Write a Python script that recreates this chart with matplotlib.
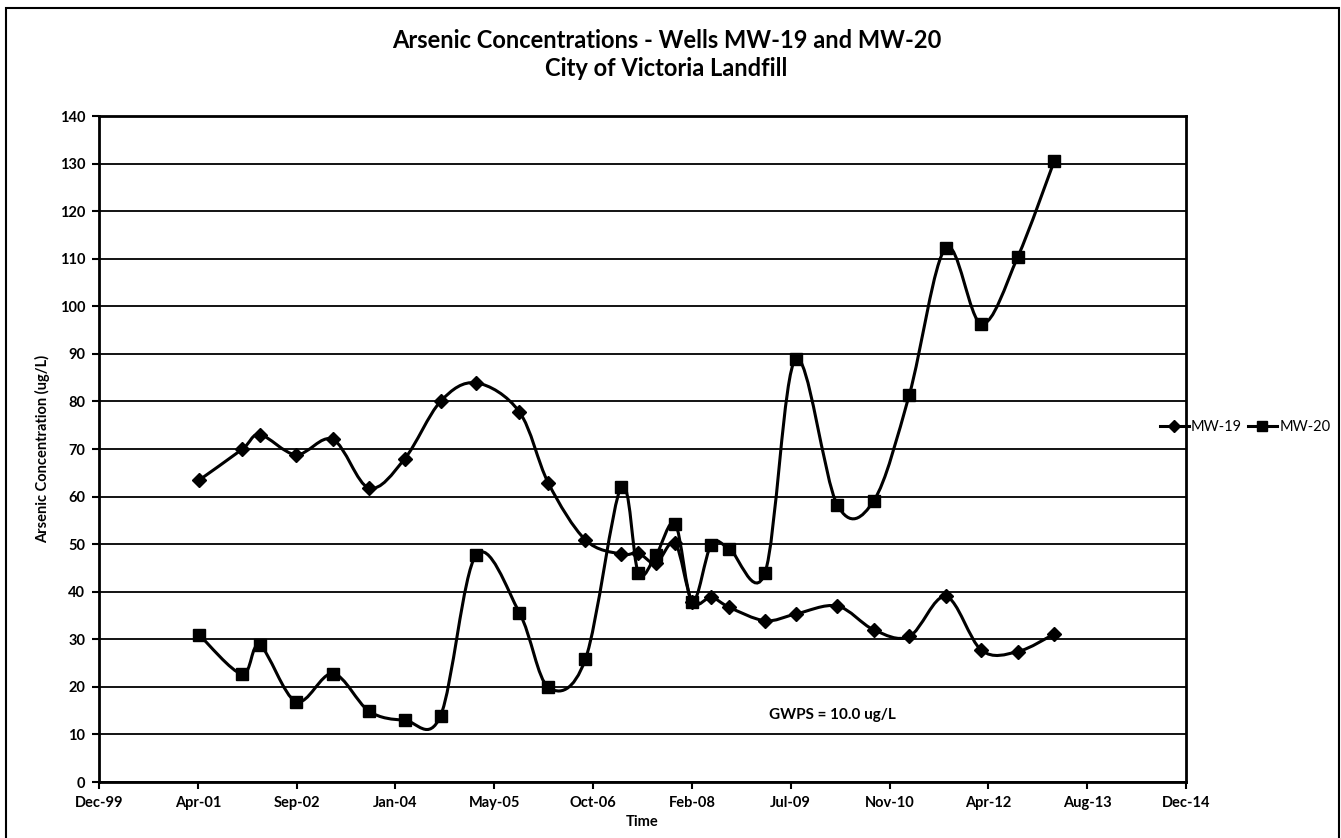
import numpy as np
import pandas as pd
import matplotlib
matplotlib.use("Agg")
import matplotlib.pyplot as plt
import matplotlib.dates as mdates
from matplotlib.path import Path
from matplotlib.patches import PathPatch, Rectangle
from matplotlib.lines import Line2D

plt.rcParams['font.family'] = ['Lato', 'DejaVu Sans']

# sampling dates shared by both wells
sample_dates = [
    "2001-04-27", "2001-11-28", "2002-02-27", "2002-08-29", "2003-03-04",
    "2003-09-02", "2004-02-29", "2004-08-29", "2005-02-25", "2005-10-02",
    "2006-02-26", "2006-09-01", "2007-03-01", "2007-05-27", "2007-08-24",
    "2007-11-29", "2008-02-24", "2008-05-30", "2008-08-30", "2009-02-26",
    "2009-07-31", "2010-02-26", "2010-08-30", "2011-02-26", "2011-08-30",
    "2012-02-26", "2012-08-27", "2013-02-28",
]

# arsenic, ug/L
mw19 = [63.5, 69.9, 73.0, 68.8, 72.0, 61.8, 67.9, 80.0, 83.9, 77.8,
        62.8, 50.9, 47.9, 48.1, 46.0, 50.2, 37.9, 38.8, 36.7, 33.9,
        35.3, 37.0, 32.0, 30.6, 39.0, 27.7, 27.4, 31.1]
mw20 = [30.9, 22.7, 28.7, 16.9, 22.8, 14.9, 13.0, 13.9, 47.7, 35.6,
        19.9, 25.8, 62.0, 44.0, 47.7, 54.3, 37.9, 49.9, 49.0, 44.0,
        88.9, 58.3, 59.1, 81.4, 112.3, 96.3, 110.3, 130.5]

axis_start = "1999-12-06"
axis_end = "2014-12-27"
tick_step_days = 500
gwps_text = "GWPS = 10.0 ug/L"


def smooth_path(x, y):
    # Excel-style smoothed line: cubic bezier through every point
    pts = np.column_stack([x, y])
    n = len(pts)
    verts = [pts[0]]
    codes = [Path.MOVETO]
    for i in range(n - 1):
        p0 = pts[i - 1] if i > 0 else pts[i]
        p1 = pts[i]
        p2 = pts[i + 1]
        p3 = pts[i + 2] if i + 2 < n else pts[i + 1]
        c1 = p1 + (p2 - p0) / 6.0
        c2 = p2 - (p3 - p1) / 6.0
        verts += [c1, c2, p2]
        codes += [Path.CURVE4] * 3
    return Path(verts, codes)


xd = mdates.date2num(pd.to_datetime(sample_dates))

fig = plt.figure(figsize=(13.41, 8.38), dpi=100)
ax = fig.add_axes([99 / 1341, 56 / 838, 1087 / 1341, 666 / 838])

for vals, marker, ms in [(mw19, "D", 7), (mw20, "s", 8)]:
    ax.add_patch(PathPatch(smooth_path(xd, np.array(vals)), fill=False,
                           edgecolor="black", lw=2.2, zorder=3))
    ax.plot(xd, vals, linestyle="none", marker=marker, ms=ms,
            color="black", zorder=4)

x0 = mdates.date2num(pd.Timestamp(axis_start))
x1 = mdates.date2num(pd.Timestamp(axis_end))
ax.set_xlim(x0, x1)
ax.set_xticks(np.arange(x0, x1 + 1, tick_step_days))
ax.xaxis.set_major_formatter(mdates.DateFormatter("%b-%y"))
ax.set_ylim(0, 140)
ax.set_yticks(np.arange(0, 141, 10))

ax.yaxis.grid(True, color="black", lw=1.3)
ax.set_axisbelow(True)
for s in ax.spines.values():
    s.set_linewidth(2)
ax.tick_params(axis="both", direction="out", length=5, width=1.5,
               labelsize=10.5, pad=5)
for lab in ax.get_xticklabels() + ax.get_yticklabels():
    lab.set_fontweight("bold")

ax.set_ylabel("Arsenic Concentration (ug/L)", fontsize=10.5,
              fontweight="bold", labelpad=7)
ax.set_xlabel("Time", fontsize=10.5, fontweight="bold", labelpad=4)

fig.text(0.497, 1 - 40 / 838, "Arsenic Concentrations - Wells MW-19 and MW-20",
         ha="center", va="center", fontsize=17, fontweight="bold")
fig.text(0.497, 1 - 68 / 838, "City of Victoria Landfill",
         ha="center", va="center", fontsize=17, fontweight="bold")

ax.text(0.616, 0.10, gwps_text, transform=ax.transAxes,
        fontsize=11, fontweight="bold", ha="left", va="center")

handles = [Line2D([], [], color="black", lw=2.2, marker="D", ms=6),
           Line2D([], [], color="black", lw=2.2, marker="s", ms=7)]
fig.legend(handles, ["MW-19", "MW-20"], loc="center",
           bbox_to_anchor=(1245 / 1341, 1 - 427 / 838), ncol=2,
           frameon=False, fontsize=10.5, handlelength=2.0,
           handletextpad=0.15, columnspacing=0.4, borderpad=0)

# outer chart border
fig.patches.append(Rectangle((6 / 1341, -0.01), 1333 / 1341, 1 - 8 / 838 + 0.01,
                             transform=fig.transFigure, fill=False,
                             edgecolor="black", lw=1.5))

fig.savefig("out.png", dpi=100)
